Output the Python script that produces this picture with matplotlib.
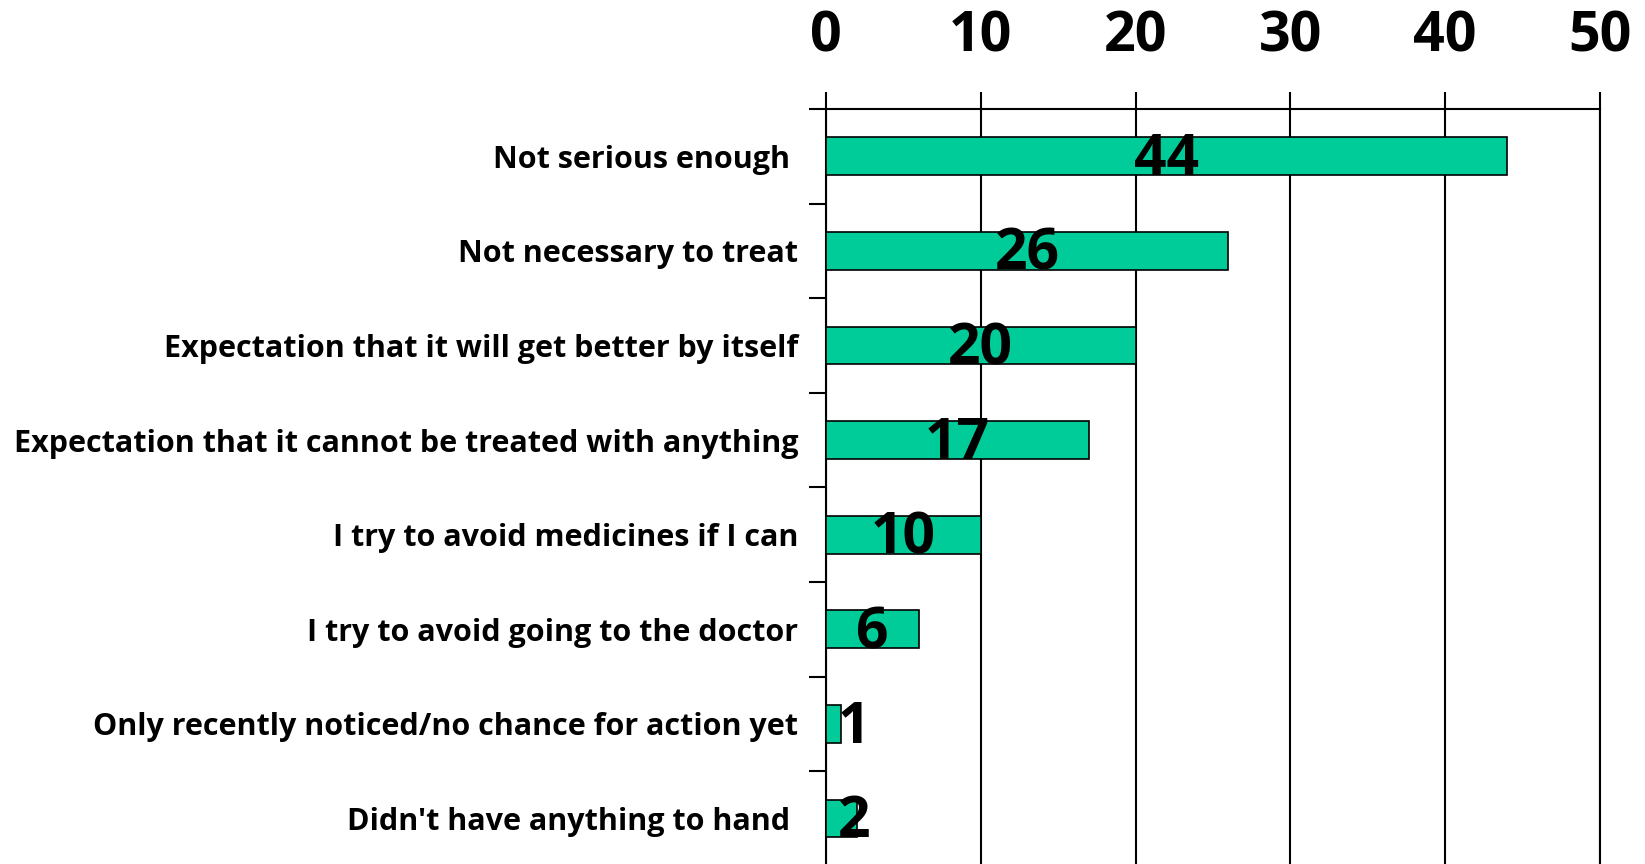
import numpy as np
import matplotlib
matplotlib.use("Agg")
import matplotlib.pyplot as plt
from matplotlib.transforms import offset_copy

# reasons for not treating, share of respondents
reasons = ["Not serious enough ",
           "Not necessary to treat",
           "Expectation that it will get better by itself",
           "Expectation that it cannot be treated with anything",
           "I try to avoid medicines if I can",
           "I try to avoid going to the doctor",
           "Only recently noticed/no chance for action yet",
           "Didn't have anything to hand "]
values = [44, 26, 20, 17, 10, 6, 1, 2]
x_ticks = [0, 10, 20, 30, 40, 50]

plt.rcParams['font.family'] = ['Open Sans', 'DejaVu Sans']
plt.rcParams['font.weight'] = 'bold'

fig = plt.figure(figsize=(16.45, 8.64), dpi=100)
ax = fig.add_axes([0.5021, -0.002, 0.4705, 0.8758])

y = np.arange(len(reasons))
ax.barh(y, values, height=0.4, color='#00CC99', edgecolor='black', linewidth=1.2, zorder=3)

# value labels, kept clear of the axis for the tiny bars
lab_trans = offset_copy(ax.transData, fig=fig, x=0, y=-4, units='dots')
for yi, v in zip(y, values):
    ax.text(max(v / 2, 1.8), yi, str(v), ha='center', va='center',
            fontsize=41, fontweight='bold', zorder=4, transform=lab_trans)

ax.set_xlim(0, 50)
ax.set_ylim(len(reasons) - 0.5, -0.5)

ax.xaxis.tick_top()
ax.set_xticks(x_ticks)
ax.set_xticklabels([str(t) for t in x_ticks], fontsize=40, fontweight='bold')
ax.tick_params(axis='x', direction='out', length=12, width=1.5, pad=20)
ax.grid(axis='x', color='black', linewidth=1.5, zorder=0)

ax.set_yticks(y)
ax.set_yticklabels(reasons, fontsize=22, fontweight='bold')
ax.set_yticks(np.arange(-0.5, len(reasons), 1), minor=True)
ax.tick_params(axis='y', which='major', length=0, pad=20)
ax.tick_params(axis='y', which='minor', direction='out', length=12, width=1.5)

ax.spines['bottom'].set_visible(False)
for s in ['top', 'left', 'right']:
    ax.spines[s].set_linewidth(1.5)

fig.savefig('out.png', dpi=100)
